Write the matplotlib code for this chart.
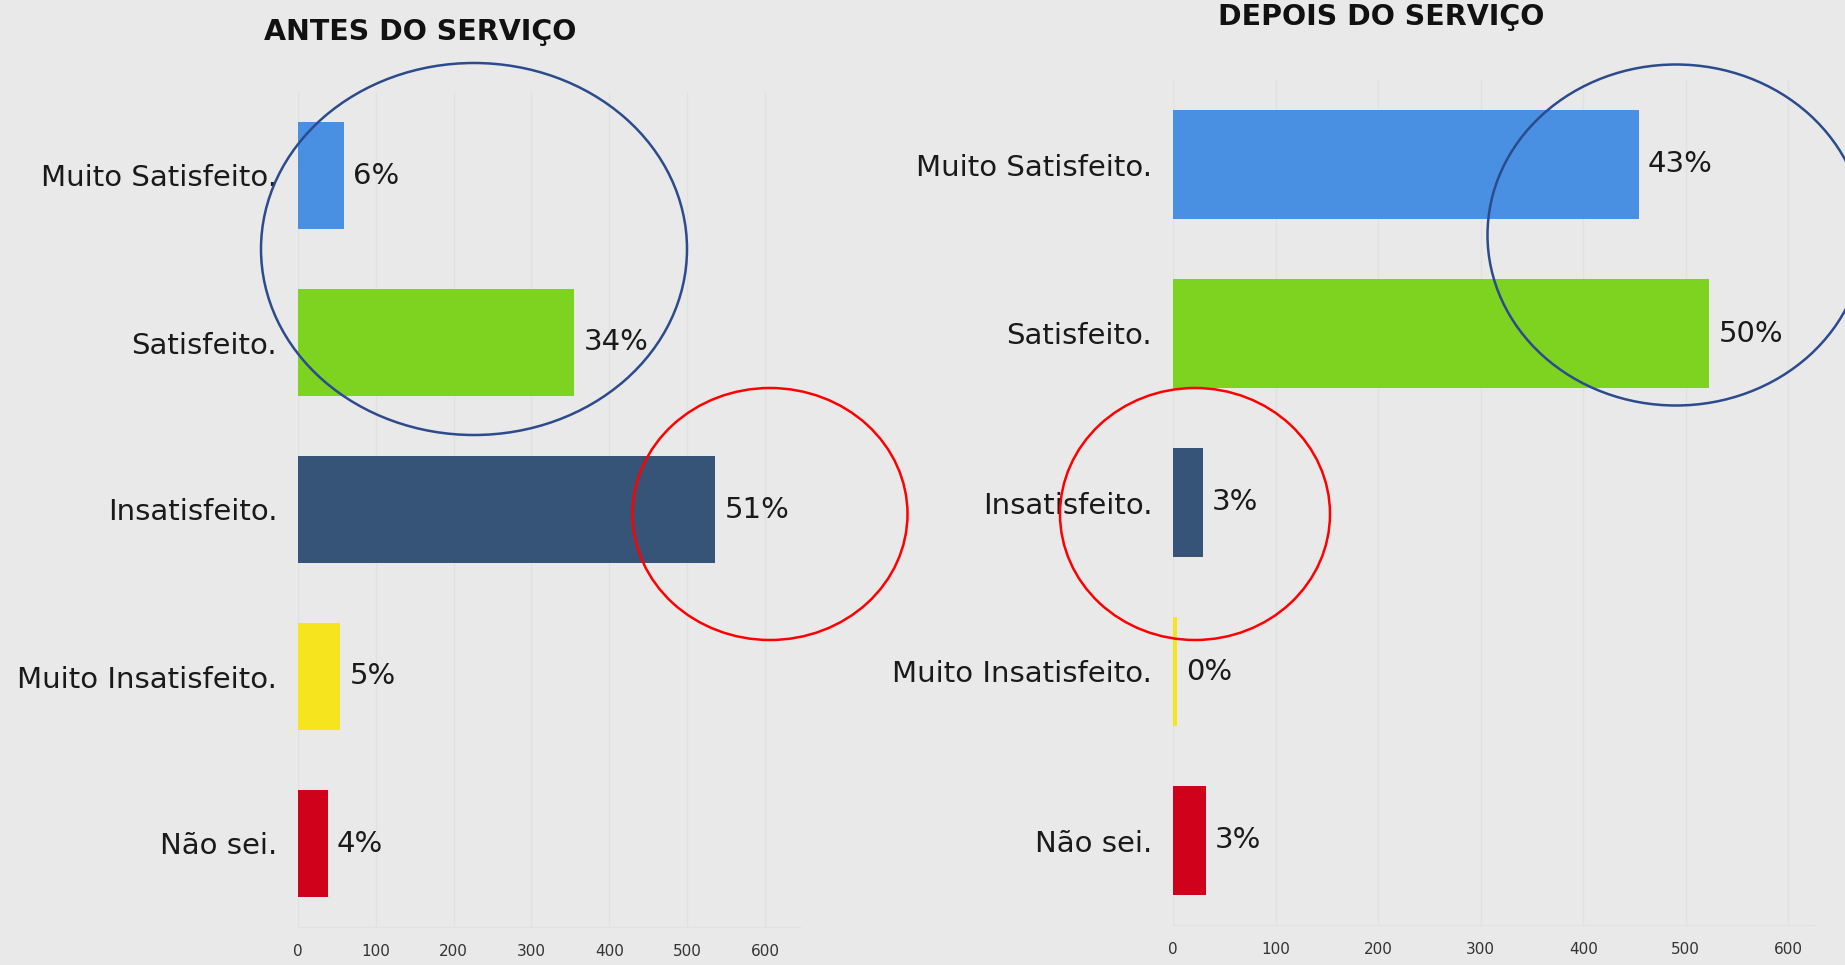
import matplotlib
matplotlib.use("Agg")
import matplotlib.pyplot as plt
from matplotlib.patches import Ellipse

# dados
categorias = ['Muito Satisfeito.', 'Satisfeito.', 'Insatisfeito.',
              'Muito Insatisfeito.', 'Não sei.']
antes = [59, 355, 536, 54, 38]
depois = [454, 523, 29, 4, 32]
antes_pct = ['6%', '34%', '51%', '5%', '4%']
depois_pct = ['43%', '50%', '3%', '0%', '3%']
ticks = [0, 100, 200, 300, 400, 500, 600]
cores = ['#4a90e2', '#7ed321', '#355478', '#f5e41e', '#d0021b']

W, H = 1845, 965
bg = '#e9e9e9'
fig = plt.figure(figsize=(W / 100, H / 100), dpi=100, facecolor=bg)


def px_box(left, top, right, bottom):
    return [left / W, 1 - bottom / H, (right - left) / W, (bottom - top) / H]


def draw_chart(ax, valores, rotulos, xmax, gap):
    ax.set_facecolor(bg)
    y = list(range(len(categorias)))
    ax.barh(y, valores, height=0.64, color=cores, zorder=3)
    for yi, v, r in zip(y, valores, rotulos):
        ax.text(v + gap, yi, r, va='center', ha='left', fontsize=21,
                color='#1a1a1a', zorder=4)
    ax.set_xlim(0, xmax)
    ax.set_ylim(len(categorias) - 0.5, -0.5)
    ax.set_yticks(y)
    ax.set_yticklabels(categorias, fontsize=21, color='#1a1a1a')
    ax.set_xticks(ticks)
    ax.set_xticklabels([str(t) for t in ticks], fontsize=11, color='#333333')
    ax.tick_params(axis='y', length=0, pad=15)
    ax.tick_params(axis='x', length=0, pad=12)
    ax.grid(axis='x', color='#e1e1e1', linewidth=1, zorder=0)
    for s in ax.spines.values():
        s.set_visible(False)
    ax.spines['bottom'].set_visible(True)
    ax.spines['bottom'].set_color('#e1e1e1')


ax1 = fig.add_axes(px_box(298, 92, 800, 927))
draw_chart(ax1, antes, antes_pct, 645, 12)
ax2 = fig.add_axes(px_box(1173, 80, 1814, 925))
draw_chart(ax2, depois, depois_pct, 625, 9)

fig.text(420 / W, 1 - 32 / H, 'ANTES DO SERVIÇO', ha='center', va='center',
         fontsize=20.5, fontweight='bold', color='#111111')
fig.text(1381 / W, 1 - 17 / H, 'DEPOIS DO SERVIÇO', ha='center', va='center',
         fontsize=20.5, fontweight='bold', color='#111111')

# elipses de destaque (em pixels da figura)
elipses = [((474, 249), 426, 372, '#2b4b8c'),
           ((770, 514), 275, 252, '#ff0000'),
           ((1676, 235), 377, 341, '#2b4b8c'),
           ((1195, 514), 270, 252, '#ff0000')]
for (cx, cy), w, h, c in elipses:
    e = Ellipse((cx / W, 1 - cy / H), w / W, h / H, transform=fig.transFigure,
                fill=False, edgecolor=c, linewidth=1.8, zorder=10)
    fig.add_artist(e)

fig.savefig('out.png', dpi=100, facecolor=bg)
